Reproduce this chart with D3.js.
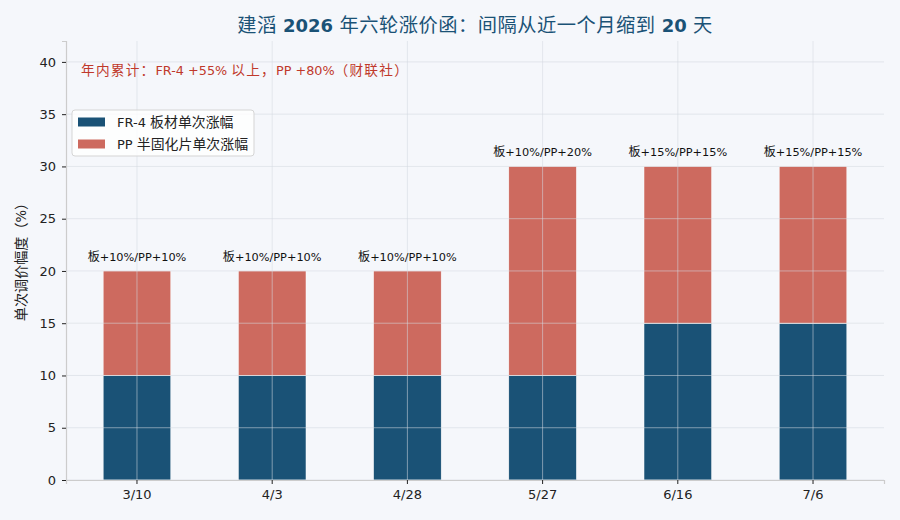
<!DOCTYPE html>
<html>
<head>
<meta charset="utf-8">
<script src="https://cdn.jsdelivr.net/npm/d3@7"></script>
<style>
  body { margin: 0; background: #f5f7fb; }
  svg { font-family: "DejaVu Sans", "Noto Sans CJK SC", sans-serif; text-spacing-trim: space-all; }
</style>
</head>
<body>
<div id="chart"></div>
<script>
// data
const dates = ["3/10", "4/3", "4/28", "5/27", "6/16", "7/6"];
const boardRise = [10, 10, 10, 10, 15, 15];
const ppRise = [10, 10, 10, 20, 15, 15];
const yTicks = [0, 5, 10, 15, 20, 25, 30, 35, 40];
const seriesNames = ["FR-4 板材单次涨幅", "PP 半固化片单次涨幅"];

const width = 900, height = 520;
const margin = {top: 41, right: 16, bottom: 40, left: 66};
const blue = "#1a5276", red = "#cd6a5f";

const svg = d3.select("#chart").append("svg")
    .attr("width", width)
    .attr("height", height);

svg.append("rect").attr("width", width).attr("height", height).attr("fill", "#f5f7fb");

// split text into latin / cjk runs so cjk glyphs can be sized like the reference
const cjk = /[\u3000-\u9fff\uff00-\uffef]/;
function richText(sel, str, size, bold, spacing) {
  let runs = [];
  for (const ch of str) {
    const isC = cjk.test(ch);
    if (runs.length && runs[runs.length - 1].c === isC) runs[runs.length - 1].t += ch;
    else runs.push({c: isC, t: ch});
  }
  runs.forEach(r => {
    sel.append("tspan")
      .attr("font-size", r.c ? size * 1.07 : size)
      .attr("font-weight", bold && !r.c ? "bold" : "normal")
      .attr("font-family", r.c ? "Noto Sans CJK SC, sans-serif" : "DejaVu Sans, sans-serif")
      .attr("letter-spacing", r.c && spacing ? spacing : null)
      .text(r.t);
  });
  return sel;
}

let x = d3.scaleBand()
    .domain(dates)
    .range([margin.left, width - margin.right])
    .paddingInner(0.5)
    .paddingOuter(0.275);

let y = d3.scaleLinear()
    .domain([0, 42])
    .range([height - margin.bottom, margin.top]);

// stacked bars
const g = svg.append("g");
g.selectAll("rect.board")
  .data(dates)
  .join("rect")
    .attr("class", "board")
    .attr("x", d => x(d))
    .attr("width", x.bandwidth())
    .attr("y", (d, i) => y(boardRise[i]))
    .attr("height", (d, i) => y(0) - y(boardRise[i]))
    .attr("fill", blue)
    .attr("stroke", "#ffffff")
    .attr("stroke-width", 0.5);

g.selectAll("rect.pp")
  .data(dates)
  .join("rect")
    .attr("class", "pp")
    .attr("x", d => x(d))
    .attr("width", x.bandwidth())
    .attr("y", (d, i) => y(boardRise[i] + ppRise[i]))
    .attr("height", (d, i) => y(boardRise[i]) - y(boardRise[i] + ppRise[i]))
    .attr("fill", red)
    .attr("stroke", "#ffffff")
    .attr("stroke-width", 0.5);

// grid on top of bars
const grid = svg.append("g")
    .attr("stroke", "#d3d8e0")
    .attr("stroke-opacity", 0.55)
    .attr("stroke-width", 1);
grid.selectAll("line.h")
  .data(yTicks)
  .join("line")
    .attr("x1", margin.left).attr("x2", width - margin.right)
    .attr("y1", d => y(d)).attr("y2", d => y(d));
grid.selectAll("line.v")
  .data(dates)
  .join("line")
    .attr("x1", d => x(d) + x.bandwidth() / 2).attr("x2", d => x(d) + x.bandwidth() / 2)
    .attr("y1", margin.top).attr("y2", height - margin.bottom);

// bar labels
svg.append("g")
  .selectAll("text")
  .data(dates)
  .join("text")
    .attr("x", d => x(d) + x.bandwidth() / 2)
    .attr("y", (d, i) => y(boardRise[i] + ppRise[i]) - 10)
    .attr("text-anchor", "middle")
    .attr("fill", "#111")
    .each(function(d, i) {
      richText(d3.select(this), `板+${boardRise[i]}%/PP+${ppRise[i]}%`, 11.3, false);
    });

// axes
const xAxis = svg.append("g")
    .attr("transform", `translate(0,${height - margin.bottom})`)
    .call(d3.axisBottom(x).tickSize(4).tickPadding(6));
const yAxis = svg.append("g")
    .attr("transform", `translate(${margin.left},0)`)
    .call(d3.axisLeft(y).tickValues(yTicks).tickSize(4).tickPadding(6));

[xAxis, yAxis].forEach(a => {
  a.select(".domain").attr("stroke", "#cccccc").attr("stroke-width", 1.2);
  a.selectAll(".tick line").attr("stroke", "#222");
  a.selectAll(".tick text").attr("font-size", 13).attr("fill", "#222")
    .attr("font-family", "DejaVu Sans, Noto Sans CJK SC, sans-serif");
});

// y label
svg.append("text")
    .attr("transform", `translate(26,${(margin.top + height - margin.bottom) / 2 - 2}) rotate(-90)`)
    .attr("text-anchor", "middle")
    .attr("fill", "#222")
    .call(richText, "单次调价幅度（%）", 13.2, false);

// title
svg.append("text")
    .attr("x", (margin.left + width - margin.right) / 2)
    .attr("y", 32)
    .attr("text-anchor", "middle")
    .attr("fill", blue)
    .call(richText, "建滔 2026 年六轮涨价函：间隔从近一个月缩到 20 天", 18, true, 0.5);

// note
svg.append("text")
    .attr("x", 81)
    .attr("y", 75)
    .attr("fill", "#c0392b")
    .call(richText, "年内累计：FR-4 +55% 以上，PP +80%（财联社）", 12.8, false, 1.2);

// legend
const leg = svg.append("g").attr("transform", "translate(72,110)");
leg.append("rect")
    .attr("width", 182).attr("height", 46).attr("rx", 3)
    .attr("fill", "#ffffff").attr("fill-opacity", 0.8)
    .attr("stroke", "#d5d5d5");
const items = leg.selectAll("g.item")
  .data(seriesNames)
  .join("g")
    .attr("transform", (d, i) => `translate(6,${7 + i * 22})`);
items.append("rect")
    .attr("width", 27).attr("height", 9).attr("y", 0.5)
    .attr("fill", (d, i) => i === 0 ? blue : red);
items.append("text")
    .attr("x", 39).attr("y", 10)
    .attr("fill", "#222")
    .each(function(d) { richText(d3.select(this), d, 13, false); });
</script>
</body>
</html>
